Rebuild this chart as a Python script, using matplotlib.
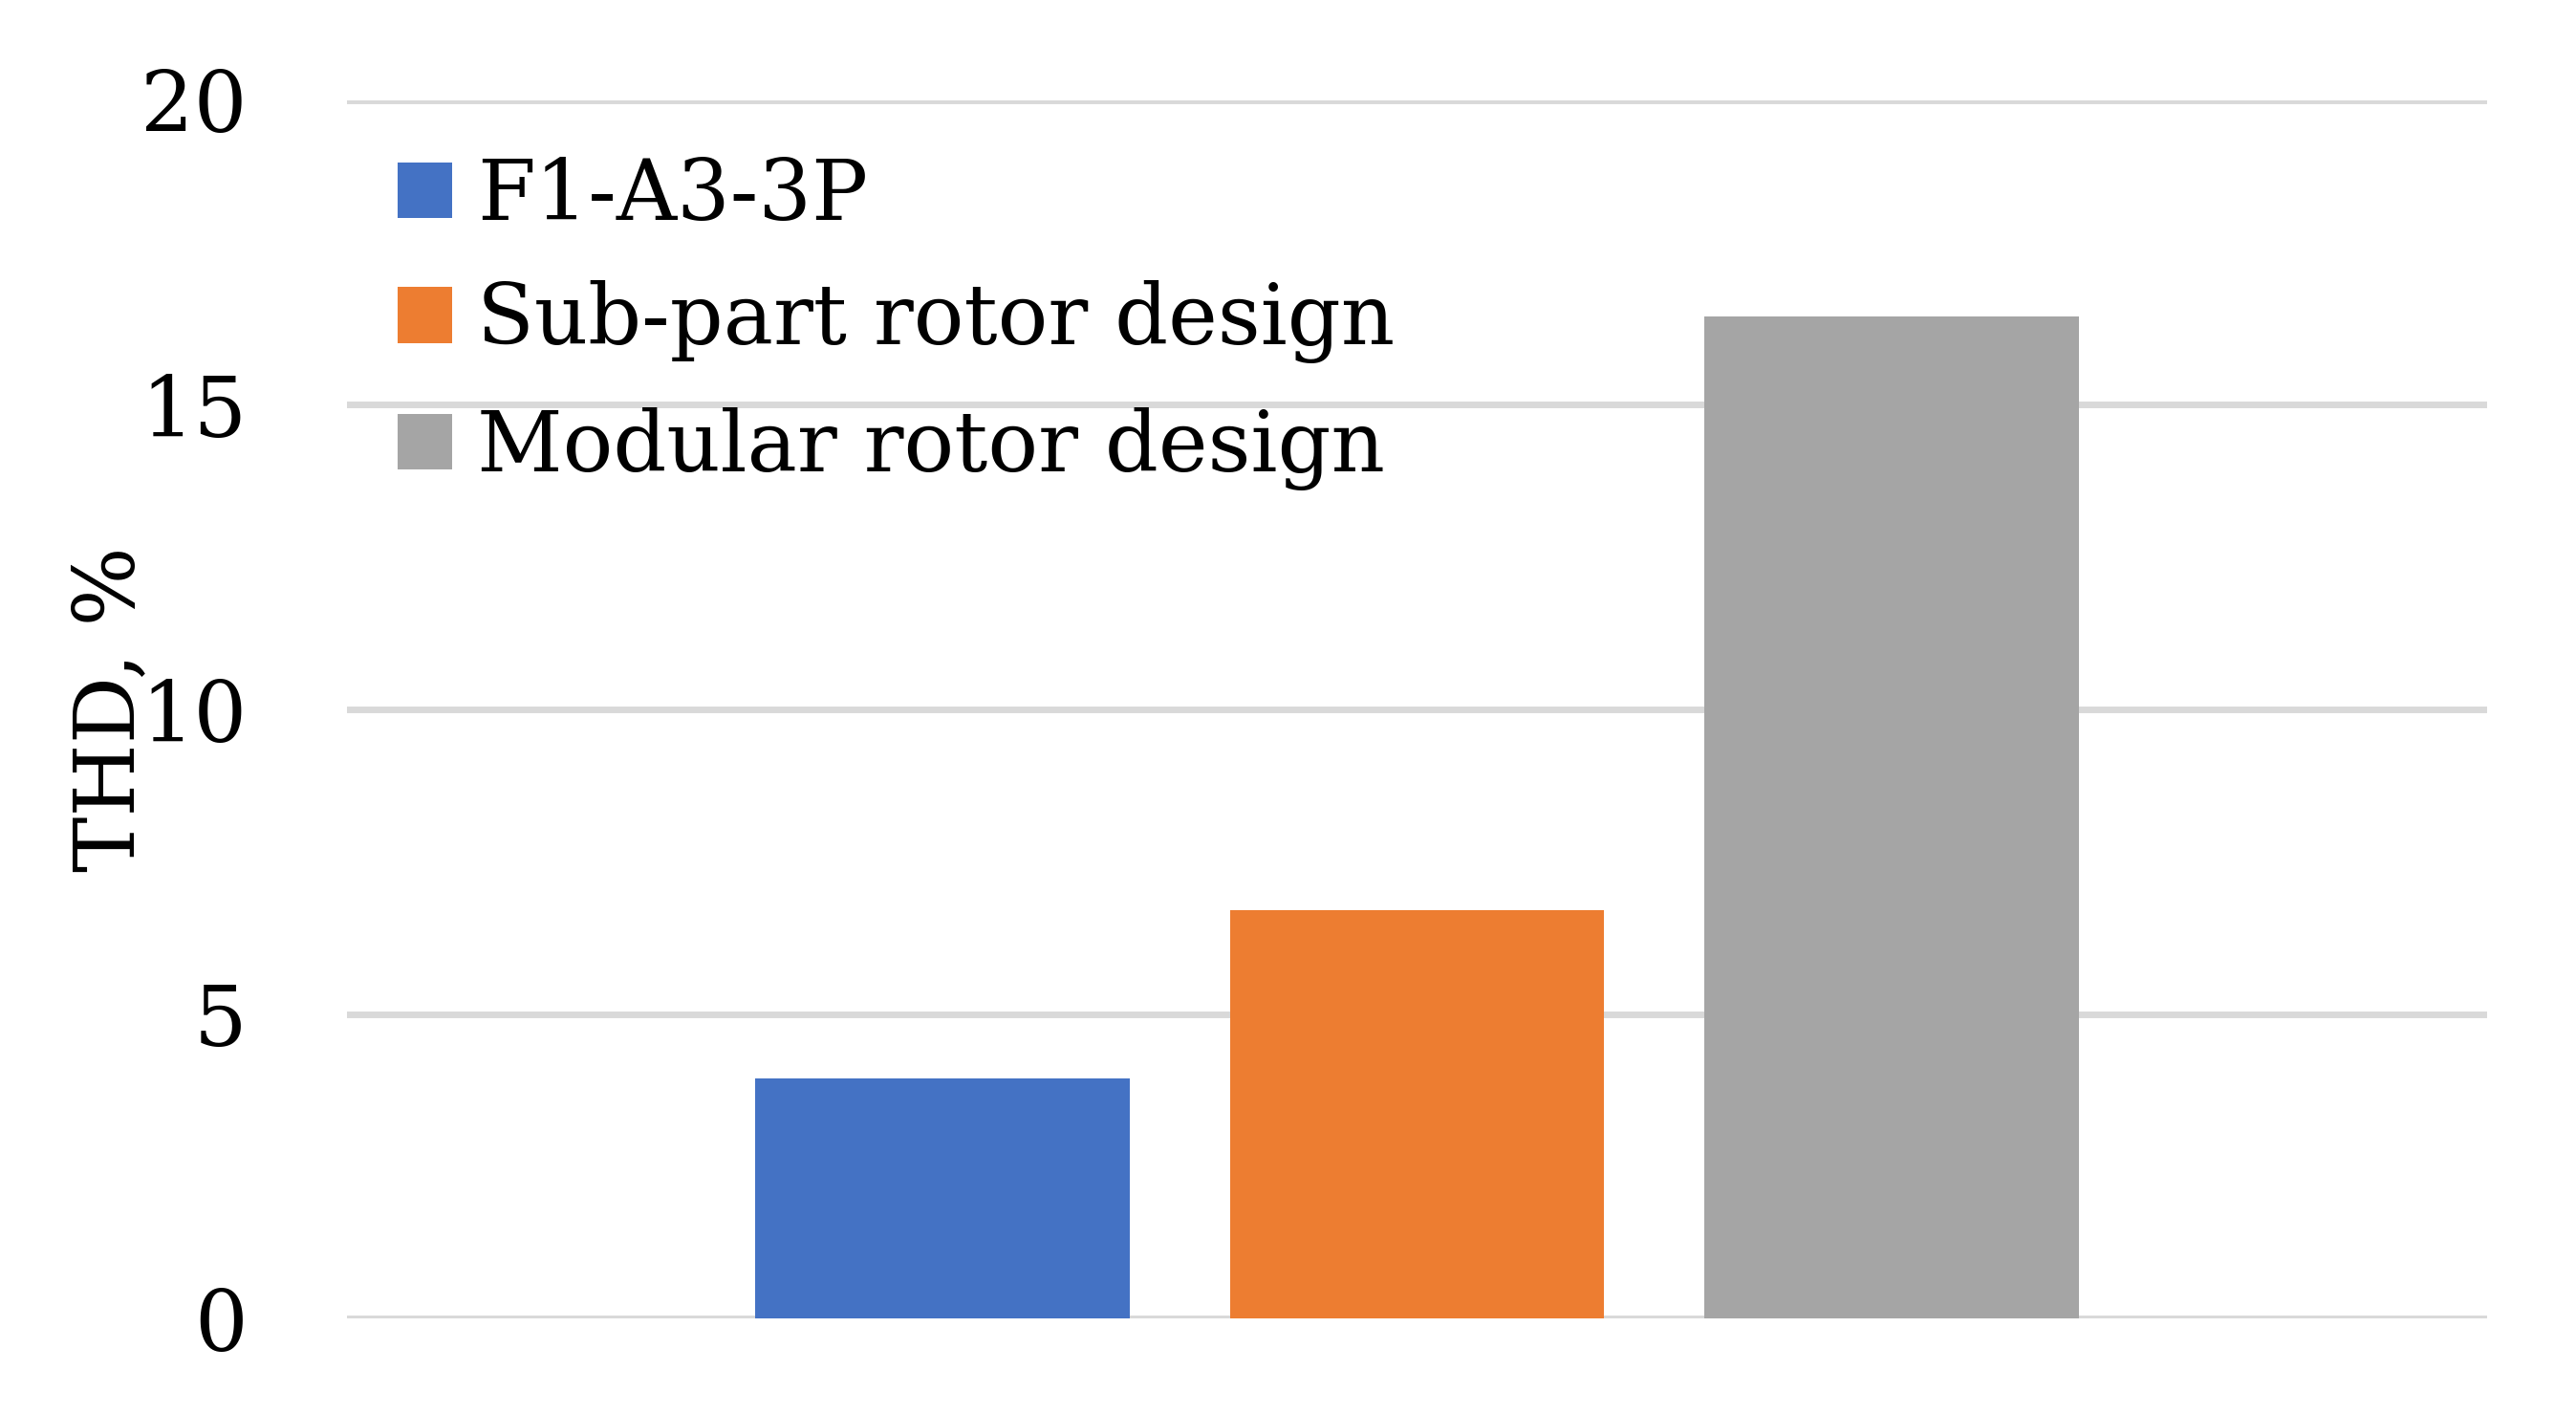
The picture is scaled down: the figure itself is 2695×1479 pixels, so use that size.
import matplotlib.pyplot as plt
import numpy as np

# данные графика
series = ['F1-A3-3P', 'Sub-part rotor design', 'Modular rotor design']
thd = [3.94, 6.71, 16.45]
colors = ['#4472C4', '#ED7D31', '#A5A5A5']
yticks = [0, 5, 10, 15, 20]

plt.rcParams['font.family'] = ['DejaVu Serif']

fig = plt.figure(figsize=(26.95, 14.79), dpi=100)
ax = fig.add_axes([0.1346, 0.0674, 0.831, 0.8618])

width = 0.175
step = 0.2218
x = 0.5 + (np.arange(len(series)) - 1) * step
for xi, v, c, lab in zip(x, thd, colors, series):
    ax.bar(xi, v, width=width, color=c, label=lab, zorder=3)

ax.set_xlim(0, 1)
ax.set_ylim(0, 20)
ax.set_yticks(yticks)
ax.set_xticks([])
ax.grid(axis='y', color='#D9D9D9', linewidth=5, zorder=0)
for s in ax.spines.values():
    s.set_visible(False)
ax.tick_params(axis='y', length=0, labelsize=63, pad=75)
ax.set_ylabel('THD, %', fontsize=63, labelpad=-8)

ax.legend(loc='upper left', bbox_to_anchor=(0.012, 0.975), frameon=False,
          fontsize=63, handlelength=0.65, handleheight=0.65, handletextpad=0.3,
          labelspacing=0.52, borderaxespad=0, borderpad=0.3)

plt.savefig('out.png', dpi=100)
